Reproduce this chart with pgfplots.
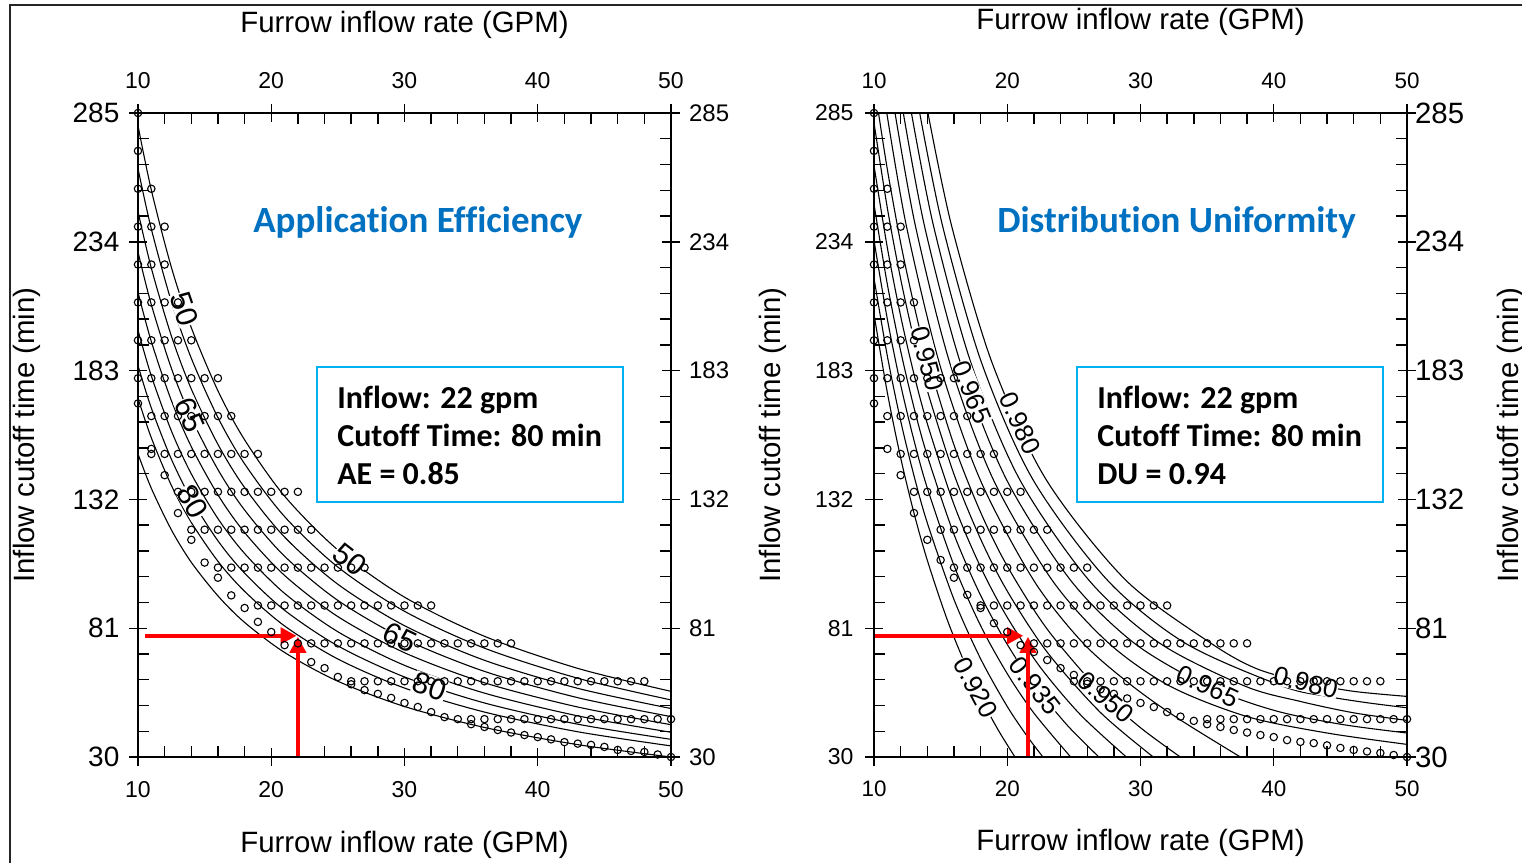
\documentclass[border=0pt]{standalone}
\usepackage{fontspec}
\setmainfont{Liberation Sans}
\newfontfamily\calibri[Ligatures={NoCommon}]{Carlito}
\usepackage{pgfplots}
\pgfplotsset{compat=1.18}
\usetikzlibrary{arrows.meta}
\definecolor{titleblue}{RGB}{0,112,192}
\definecolor{boxblue}{RGB}{0,176,240}
\definecolor{arrowred}{RGB}{255,0,0}

\pgfplotsset{
 panel/.style={scale only axis, width=266.5pt, height=322pt,
   xmin=10, xmax=50, ymin=30, ymax=285,
   xtick={10,20,30,40,50}, ytick={30,81,132,183,234,285},
   axis line style={line width=0.8pt, black},
   tick style={line width=0.7pt, black},
   /pgf/number format/assume math mode=true, anchor=south west},
 innerax/.style={panel, tick align=inside, minor x tick num=4, minor y tick num=4,
   major tick length=4.5pt, minor tick length=5.5pt},
 outerax/.style={panel, tick align=outside, major tick length=4.5pt,
   xticklabel pos=upper, yticklabel pos=right},
 contour/.style={black, line width=0.55pt, smooth, no marks},
 dots/.style={only marks, mark=o, mark size=1.85pt, mark options={line width=0.55pt, black}},
}
\tikzset{
 aelab/.style={font=\fontsize{15}{16}\selectfont, fill=white, inner sep=0.2pt},
 dulab/.style={font=\fontsize{13}{14}\selectfont, fill=white, inner sep=0.1pt},
 redarrow/.style={arrowred, line width=2pt, -{Triangle[length=8pt,width=8pt]}},
 boxtext/.style={anchor=west, align=left, inner sep=0pt, font=\calibri\bfseries\fontsize{16}{19}\selectfont},
}

\begin{document}
\begin{tikzpicture}
\useasboundingbox (0,0) rectangle (761pt,-431.5pt);
\draw[line width=1pt, black!85] (5pt,-431.5pt) -- (5pt,-2.5pt) -- (761pt,-2.5pt);

% ================= LEFT PANEL: Application Efficiency =================
\begin{axis}[innerax, at={(69pt,-378.5pt)},
  xlabel={Furrow inflow rate (GPM)}, ylabel={Inflow cutoff time (min)},
  xlabel style={at={(axis description cs:0.5,-0.1366)}, anchor=center, font=\fontsize{14.7}{16}\selectfont},
  ylabel style={at={(axis description cs:-0.2083,0.5)}, anchor=center, font=\fontsize{14.7}{16}\selectfont},
  xticklabel style={font=\fontsize{11.5}{12}\selectfont, yshift=-8.5pt},
  yticklabel style={font=\fontsize{14}{15}\selectfont, xshift=-5.8pt}]
% contours AE = 50,55,...,90
\addplot[contour] coordinates {(10,280)(11,254.5)(12.5,224)(14,200)(16,175)(18,155.6)(21,133.3)(25,112)(30,93.3)(36,77.8)(43,65.1)(50,56)};
\addplot[contour] coordinates {(10,263)(11,239.1)(12.5,210.4)(14,187.9)(16,164.4)(18,146.1)(21,125.2)(25,105.2)(30,87.7)(36,73.1)(43,61.2)(50,52.6)};
\addplot[contour] coordinates {(10,246)(11,223.6)(12.5,196.8)(14,175.7)(16,153.8)(18,136.7)(21,117.1)(25,98.4)(30,82)(36,68.3)(43,57.2)(50,49.2)};
\addplot[contour] coordinates {(10,230)(11,209.1)(12.5,184)(14,164.3)(16,143.8)(18,127.8)(21,109.5)(25,92)(30,76.7)(36,63.9)(43,53.5)(50,46)};
\addplot[contour] coordinates {(10,214)(11,194.5)(12.5,171.2)(14,152.9)(16,133.8)(18,118.9)(21,101.9)(25,85.6)(30,71.3)(36,59.4)(43,49.8)(50,42.8)};
\addplot[contour] coordinates {(10,199)(11,180.9)(12.5,159.2)(14,142.1)(16,124.4)(18,110.6)(21,94.8)(25,79.6)(30,66.3)(36,55.3)(43,46.3)(50,39.8)};
\addplot[contour] coordinates {(10,185)(11,168.2)(12.5,148)(14,132.1)(16,115.6)(18,102.8)(21,88.1)(25,74)(30,61.7)(36,51.4)(43,43)(50,37)};
\addplot[contour] coordinates {(10,172)(11,156.4)(12.5,137.6)(14,122.9)(16,107.5)(18,95.6)(21,81.9)(25,68.8)(30,57.3)(36,47.8)(43,40)(50,34.4)};
\addplot[contour] coordinates {(10,150)(11,136.4)(12.5,120)(14,107.1)(16,93.8)(18,83.3)(21,71.4)(25,60)(30,50)(36,41.7)(43,34.9)(50,30)};
% simulation points
\addplot[dots] coordinates {
(10,285) (10,270) (10,255)(11,255)
(10,240)(11,240)(12,240) (10,225)(11,225)(12,225)
(10,210)(11,210)(12,210)(13,210)
(10,195)(11,195)(12,195)(13,195)(14,195)
(10,180)(11,180)(12,180)(13,180)(14,180)(15,180)(16,180)
(11,165)(12,165)(13,165)(14,165)(15,165)(16,165)(17,165)
(11,150)(12,150)(13,150)(14,150)(15,150)(16,150)(17,150)(18,150)(19,150)
(13,135)(14,135)(15,135)(16,135)(17,135)(18,135)(19,135)(20,135)(21,135)(22,135)
(14,120)(15,120)(16,120)(17,120)(18,120)(19,120)(20,120)(21,120)(22,120)(23,120)
(16,105)(17,105)(18,105)(19,105)(20,105)(21,105)(22,105)(23,105)(24,105)(25,105)(26,105)(27,105)
(19,90)(20,90)(21,90)(22,90)(23,90)(24,90)(25,90)(26,90)(27,90)(28,90)(29,90)(30,90)(31,90)(32,90)
(22,75)(23,75)(24,75)(25,75)(26,75)(27,75)(28,75)(29,75)(30,75)(31,75)(32,75)(33,75)(34,75)(35,75)(36,75)(37,75)(38,75)
(26,60)(27,60)(28,60)(29,60)(30,60)(31,60)(32,60)(33,60)(34,60)(35,60)(36,60)(37,60)(38,60)(39,60)(40,60)(41,60)(42,60)(43,60)(44,60)(45,60)(46,60)(47,60)(48,60)
(34,45)(35,45)(36,45)(37,45)(38,45)(39,45)(40,45)(41,45)(42,45)(43,45)(44,45)(45,45)(46,45)(47,45)(48,45)(49,45)(50,45)
(10,170)(11,152)(12,141.6)(13,126.6)(14,116)(15,107)(16,101)(17,94)(18,89)(19,83.5)(20,79.5)(21,74.3)
(23,67.6)(24,65.2)(25,61.7)(26,58.8)(27,56.5)(28,55)(29,53.4)(30,51.4)(31,49.8)(32,47.8)(33,45.8)
(35,43)(36,41.9)(37,40.7)(38,39.7)(39,38.7)(40,37.9)(41,37)(42,35.9)(43,35.3)(44,34.8)(45,34)(46,32.8)(47,32.4)(48,32)(49,31)(50,30)
};
% contour labels
\node[aelab, rotate=-71] at (axis cs:13.5,207.4) {50};
\node[aelab, rotate=-38] at (axis cs:25.9,108.1) {50};
\node[aelab, rotate=-66] at (axis cs:13.9,165.5) {65};
\node[aelab, rotate=-26] at (axis cs:29.7,77.4) {65};
\node[aelab, rotate=-60] at (axis cs:14.1,131.2) {80};
\node[aelab, rotate=-19] at (axis cs:31.9,58.0) {80};
% title and box
\node[font=\calibri\bfseries\fontsize{18.5}{20}\selectfont, text=titleblue] at (axis cs:31.0,241.8) {Application Efficiency};
\draw[boxblue, line width=1pt, fill=white] (axis cs:23.43,184.4) rectangle (axis cs:46.40,131.0);
\node[boxtext] at (axis cs:24.93,157.5) {Inflow: 22 gpm\\Cutoff Time: 80 min\\AE = 0.85};
% arrows
\draw[redarrow] (axis cs:10.5,78) -- (axis cs:21.9,78);
\draw[redarrow] (axis cs:22,30) -- (axis cs:22,77.6);
\end{axis}
\begin{axis}[outerax, at={(69pt,-378.5pt)},
  xlabel={Furrow inflow rate (GPM)},
  xlabel style={at={(axis description cs:0.5,1.1366)}, anchor=center, font=\fontsize{14.7}{16}\selectfont},
  xticklabel style={font=\fontsize{11.5}{12}\selectfont, yshift=4pt},
  yticklabel style={font=\fontsize{12}{13}\selectfont, xshift=1pt}]
\end{axis}

% ================= RIGHT PANEL: Distribution Uniformity =================
\begin{axis}[innerax, at={(437pt,-378.5pt)},
  xlabel={Furrow inflow rate (GPM)}, ylabel={Inflow cutoff time (min)},
  xlabel style={at={(axis description cs:0.5,-0.1335)}, anchor=center, font=\fontsize{14.7}{16}\selectfont},
  ylabel style={at={(axis description cs:-0.1895,0.5)}, anchor=center, font=\fontsize{14.7}{16}\selectfont},
  xticklabel style={font=\fontsize{11.2}{12}\selectfont, yshift=-8.5pt},
  yticklabel style={font=\fontsize{11.5}{12}\selectfont, xshift=-6.7pt}]
% contours DU = 0.920, 0.925, ..., 0.980
\addplot[contour] coordinates {(10,205.3)(11,174.3)(12,148.5)(13,126.6)(14,107.9)(15.5,84.3)(17,64.9)(18.5,48.6)(19.5,39.1)(20.58,30)};
\addplot[contour] coordinates {(10,219.6)(11,188.8)(12,163.1)(13,141.4)(14,122.7)(16,92.4)(18,68.9)(20,50.0)(21.5,38.2)(22.68,30)};
\addplot[contour] coordinates {(10,234.6)(11,203.4)(12,177.4)(13,155.4)(14,136.5)(16,105.9)(18,82.0)(20,63.0)(22,47.4)(24.76,30)};
\addplot[contour] coordinates {(10,248.9)(11,217.2)(12,190.8)(13,168.4)(14,149.3)(16,118.2)(18,94.0)(20,74.6)(22,58.7)(24.5,42.6)(26.88,30)};
\addplot[contour] coordinates {(10,264.2)(11,231.7)(12,204.6)(13,181.6)(14,162.0)(16,130.0)(18,105.2)(20,85.3)(22.5,65.4)(25.5,46.7)(28.94,30)};
\addplot[contour] coordinates {(10,281.1)(11,247.4)(12,219.3)(13,195.5)(14,175.1)(16,142.0)(18,116.3)(20,95.7)(23,71.5)(27,47.6)(30.96,30)};
\addplot[contour] coordinates {(10.34,285)(11,262.7)(12,233.6)(13,209.0)(14,187.9)(16,153.6)(18,126.9)(20,105.6)(23,80.6)(27,55.8)(30,41.6)(32.99,30)};
\addplot[contour] coordinates {(10.96,285)(12.44,240)(14.9,186)(17.95,140)(21.98,100)(25.71,75)(29.42,58)(32.9,45)(37.5,30)};
\addplot[contour] coordinates {(11.58,285)(13.12,240)(15.69,186)(18.94,140)(23.37,100)(27.63,75)(32.23,58)(38,46)(44,39.5)(50,35)};
\addplot[contour] coordinates {(12.2,285)(13.8,240)(16.49,186)(19.93,140)(24.75,100)(29.55,75)(35.05,58)(40,48.5)(45,43)(50,39.5)};
\addplot[contour] coordinates {(12.81,285)(14.48,240)(17.28,186)(20.92,140)(26.13,100)(31.46,75)(37.87,58)(42,52)(46,47.5)(50,44.5)};
\addplot[contour] coordinates {(13.43,285)(15.16,240)(18.08,186)(21.91,140)(27.52,100)(33.38,75)(40.68,58)(44,54)(47,51.5)(50,49.5)};
\addplot[contour] coordinates {(14.05,285)(15.84,240)(18.87,186)(22.9,140)(28.9,100)(35.3,75)(38.7,65)(42.4,59.5)(46,56)(50,54)};
% simulation points
\addplot[dots] coordinates {
(10,285) (10,270) (10,255)(11,255)
(10,240)(11,240)(12,240) (10,225)(11,225)(12,225)
(10,210)(11,210)(12,210)(13,210)
(10,195)(11,195)(12,195)(13,195)
(10,180)(11,180)(12,180)(13,180)(14,180)(15,180)(16,180)
(11,165)(12,165)(13,165)(14,165)(15,165)(16,165)(17,165)
(12,150)(13,150)(14,150)(15,150)(16,150)(17,150)(18,150)(19,150)
(13,135)(14,135)(15,135)(16,135)(17,135)(18,135)(19,135)(20,135)(21,135)
(15,120)(16,120)(17,120)(18,120)(19,120)(20,120)(21,120)(22,120)(23,120)
(16,105)(17,105)(18,105)(19,105)(20,105)(21,105)(22,105)(23,105)(24,105)(25,105)(26,105)
(18,90)(19,90)(20,90)(21,90)(22,90)(23,90)(24,90)(25,90)(26,90)(27,90)(28,90)(29,90)(30,90)(31,90)(32,90)
(22,75)(23,75)(24,75)(25,75)(26,75)(27,75)(28,75)(29,75)(30,75)(31,75)(32,75)(33,75)(34,75)(35,75)(36,75)(37,75)(38,75)
(25,60)(26,60)(27,60)(28,60)(29,60)(30,60)(31,60)(32,60)(33,60)(34,60)(35,60)(36,60)(37,60)(38,60)(39,60)(40,60)(41,60)(42,60)(43,60)(44,60)(45,60)(46,60)(47,60)(48,60)
(35,45)(36,45)(37,45)(38,45)(39,45)(40,45)(41,45)(42,45)(43,45)(44,45)(45,45)(46,45)(47,45)(48,45)(49,45)(50,45)
(10,170)(11,152)(12,141.6)(13,126.6)(14,116)(15,108)(16,101)(17,94.2)(18,89)(19,83)(20,79.5)(21,74.3)
(22,71.6)(23,68.4)(24,65.2)(25,62.5)(26,59)(27,56.8)(28,55)(29,53.2)(30,51.4)(31,49.8)(32,47.8)(33,46)(34,44.3)
(35,43)(36,41.9)(37,40.7)(38,39.7)(39,38.7)(40,37.9)(41,36.7)(42,36)(43,35.5)(44,34.6)(45,33.6)(46,32.8)(47,32.2)(48,31.6)(49,30.8)(50,30)
};
% contour labels
\node[dulab, rotate=-75] at (axis cs:14.0,187.9) {0.950};
\node[dulab, rotate=-68] at (axis cs:17.35,174.5) {0.965};
\node[dulab, rotate=-65] at (axis cs:20.96,162.1) {0.980};
\node[dulab, rotate=-62] at (axis cs:17.65,57.5) {0.920};
\node[dulab, rotate=-52] at (axis cs:22.08,58.2) {0.935};
\node[dulab, rotate=-40] at (axis cs:27.4,53.7) {0.950};
\node[dulab, rotate=-25] at (axis cs:35.07,58) {0.965};
\node[dulab, rotate=-13] at (axis cs:42.4,59.5) {0.980};
% title and box
\node[font=\calibri\bfseries\fontsize{18.5}{20}\selectfont, text=titleblue] at (axis cs:32.7,241.8) {Distribution Uniformity};
\draw[boxblue, line width=1pt, fill=white] (axis cs:25.23,184.4) rectangle (axis cs:48.2,131.0);
\node[boxtext] at (axis cs:26.73,157.5) {Inflow: 22 gpm\\Cutoff Time: 80 min\\DU = 0.94};
% arrows
\draw[redarrow] (axis cs:9.85,78) -- (axis cs:21.2,78);
\draw[redarrow] (axis cs:21.56,30) -- (axis cs:21.56,77.6);
\end{axis}
\begin{axis}[outerax, at={(437pt,-378.5pt)},
  xlabel={Furrow inflow rate (GPM)}, ylabel={Inflow cutoff time (min)},
  xlabel style={at={(axis description cs:0.5,1.141)}, anchor=center, font=\fontsize{14.7}{16}\selectfont},
  ylabel style={at={(axis description cs:1.195,0.5)}, anchor=center, rotate=0, font=\fontsize{14.7}{16}\selectfont},
  xticklabel style={font=\fontsize{11.2}{12}\selectfont, yshift=4pt},
  yticklabel style={font=\fontsize{14.7}{15}\selectfont, xshift=-4pt}]
\end{axis}
\end{tikzpicture}
\end{document}
